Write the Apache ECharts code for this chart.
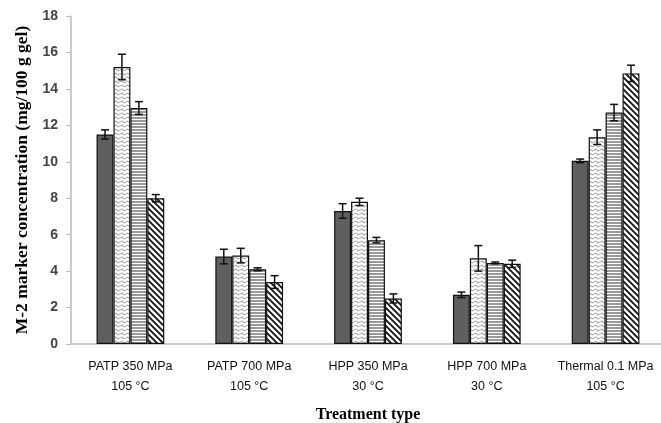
<!DOCTYPE html>
<html><head><meta charset="utf-8">
<script src="https://cdn.jsdelivr.net/npm/echarts@6/dist/echarts.min.js"></script>
<style>html,body{margin:0;padding:0;background:#fff}#c{width:661px;height:423px}</style>
</head><body><div id="c"></div>
<script>
var categories = ['PATP 350 MPa\n105 °C','PATP 700 MPa\n105 °C','HPP 350 MPa\n30 °C','HPP 700 MPa\n30 °C','Thermal 0.1 MPa\n105 °C'];
var s1 = [11.5, 4.8, 7.3, 2.7, 10.05];
var s2 = [15.2, 4.85, 7.8, 4.7, 11.35];
var s3 = [12.95, 4.1, 5.7, 4.45, 12.7];
var s4 = [8.0, 3.4, 2.5, 4.4, 14.85];
var e1 = [0.25, 0.4, 0.4, 0.15, 0.1];
var e2 = [0.7, 0.4, 0.2, 0.7, 0.4];
var e3 = [0.35, 0.08, 0.15, 0.05, 0.45];
var e4 = [0.2, 0.35, 0.25, 0.2, 0.45];
var yTicks = [0,2,4,6,8,10,12,14,16,18];

function pat(w,h,draw){var c=document.createElement('canvas');c.width=w;c.height=h;var g=c.getContext('2d');g.fillStyle='#fff';g.fillRect(0,0,w,h);draw(g);return {image:c,repeat:'repeat'};}
var pDark = '#5f5f5f';
var pWave = pat(6,4,function(g){g.strokeStyle='#8a8a8a';g.lineWidth=1;g.beginPath();g.moveTo(0,2.5);g.lineTo(1.5,1);g.lineTo(4.5,3);g.lineTo(6,1.5);g.stroke();});
var pHor = pat(4,3,function(g){g.fillStyle='#9a9a9a';g.fillRect(0,0,4,2);});
var pDiag = pat(6,6,function(g){g.strokeStyle='#111';g.lineWidth=1.8;g.beginPath();g.moveTo(-1,-1);g.lineTo(7,7);g.moveTo(-7,-1);g.lineTo(1,7);g.moveTo(5,-1);g.lineTo(13,7);g.stroke();});

var vals=[s1,s2,s3,s4], errs=[e1,e2,e3,e4], fills=[pDark,pWave,pHor,pDiag];
var gapFrac=0.43;
var series=[];
vals.forEach(function(v,i){
  series.push({type:'bar',data:v,barGap:0,barCategoryGap:'43%',itemStyle:{color:fills[i],borderColor:'#111',borderWidth:1.2},silent:true});
});
vals.forEach(function(v,i){
  series.push({type:'custom',silent:true,z:5,
    data:v.map(function(y,k){return [k,y-errs[i][k],y+errs[i][k]];}),
    renderItem:function(params,api){
      var k=api.value(0);
      var band=api.size([1,0])[0];
      var bw=band*(1-gapFrac)/4;
      var c=api.coord([k,0]);
      var x=c[0]+(i-1.5)*bw;
      var lo=api.coord([k,api.value(1)])[1], hi=api.coord([k,api.value(2)])[1];
      var st={stroke:'#111',lineWidth:1.5};
      return {type:'group',children:[
        {type:'line',shape:{x1:x,y1:lo,x2:x,y2:hi},style:st},
        {type:'line',shape:{x1:x-4,y1:lo,x2:x+4,y2:lo},style:st},
        {type:'line',shape:{x1:x-4,y1:hi,x2:x+4,y2:hi},style:st}]};
    }});
});

var chart=echarts.init(document.getElementById('c'));
chart.setOption({
  animation:false,
  grid:{left:71,top:16,width:594,bottom:79,containLabel:false,outerBoundsMode:'none'},
  xAxis:{type:'category',data:categories,
    name:'Treatment type',nameLocation:'middle',nameGap:63,
    nameTextStyle:{fontFamily:'Liberation Serif',fontWeight:'bold',fontSize:16,color:'#000'},
    axisLine:{lineStyle:{color:'#bbb',width:1.5}},axisTick:{show:false},
    axisLabel:{interval:0,margin:13,fontFamily:'Liberation Sans',fontSize:12.5,color:'#111',lineHeight:20}},
  yAxis:{type:'value',min:0,max:18,interval:2,
    name:'M-2 marker concentration (mg/100 g gel)',nameLocation:'middle',nameGap:40,
    nameTextStyle:{fontFamily:'Liberation Serif',fontWeight:'bold',fontSize:17.5,color:'#000'},
    axisLine:{show:true,lineStyle:{color:'#bbb',width:1.5}},axisTick:{show:true,length:5,lineStyle:{color:'#bbb'}},
    splitLine:{show:false},
    axisLabel:{margin:13,fontFamily:'Liberation Sans',fontWeight:'bold',fontSize:14,color:'#444',
      formatter:function(v){return yTicks.indexOf(v)>=0?String(v):'';}}},
  series:series
});
</script></body></html>
